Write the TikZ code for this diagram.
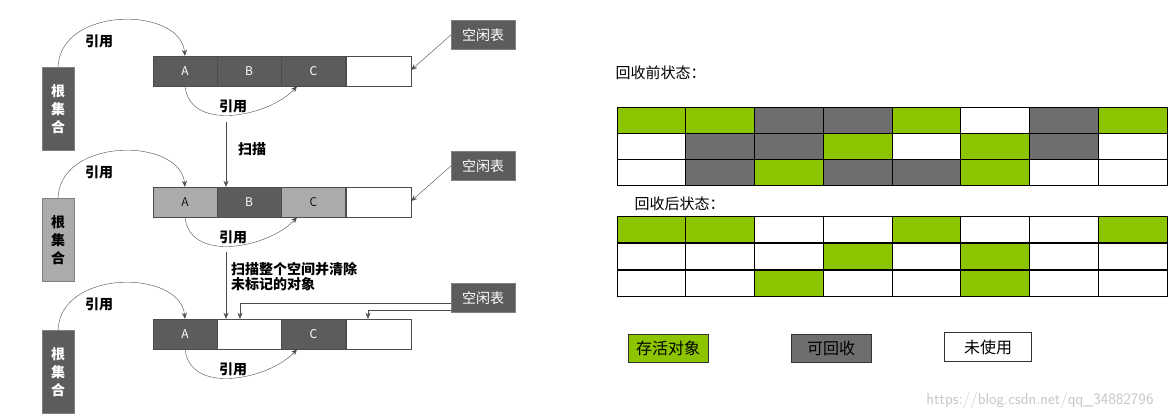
\documentclass[tikz,border=0pt]{standalone}
\usepackage{fontspec}
\setmainfont{Noto Sans CJK SC}
\usetikzlibrary{arrows.meta}
\definecolor{gr}{HTML}{8DC400}
\definecolor{dg}{HTML}{6E6E6E}
\definecolor{ld}{HTML}{5C5C5C}
\definecolor{lg}{HTML}{ABABAB}
\tikzset{
 cell/.style={draw=black!70,minimum width=64pt,minimum height=30pt,inner sep=0,font=\fontsize{12}{14}\selectfont,text=white},
 root/.style={draw=black!50,fill=ld,minimum width=32pt,minimum height=83pt,inner sep=0,text=white,font=\fontsize{14}{18}\selectfont\bfseries,align=center},
 free/.style={fill=ld,draw=black!50,minimum width=64pt,minimum height=29pt,inner sep=0,text=white,font=\fontsize{14}{16}\selectfont},
 lbl/.style={font=\fontsize{14}{16}\selectfont\bfseries,inner sep=1pt},
 ar/.style={draw=black!70,-{Stealth[length=6pt,width=5pt]}},
 g/.style={draw=black,line width=1pt,minimum width=68.75pt,minimum height=26pt,inner sep=0},
 leg/.style={draw=black!80,minimum width=80pt,minimum height=28pt,inner sep=0,font=\fontsize{16}{18}\selectfont},
}
\begin{document}
\begin{tikzpicture}[x=1pt,y=-1pt]
\useasboundingbox (0,0) rectangle (1173,419);
% left panel
\foreach \r/\y/\ca/\cb/\cc/\tc/\rc in {1/71/ld/ld/ld/white/ld, 2/202/lg/ld/lg/black/lg, 3/334/ld/white/ld/white/ld}{
  \node[cell,fill=\ca] (A\r) at (185,\y) {A};
  \node[cell,fill=\cb] (B\r) at (249,\y) {\ifnum\r=3\else B\fi};
  \node[cell,fill=\cc] (C\r) at (313.5,\y) {C};
  \node[cell,fill=white,minimum width=65pt] (D\r) at (378.5,\y) {};
  \node[root,fill=\rc,text=\tc] (R\r) at (58,\y+38) {根\\集\\合};
  \node[free] (F\r) at (483,\y-36) {空闲表};
  \draw[ar] (R\r.north) .. controls (60,\y-65) and (180,\y-65) .. (A\r.north);
  \node[lbl] at (99,\y-30) {引用};
  \draw[ar] (A\r.south) .. controls (190,\y+62) and (270,\y+45) .. (C\r.south-|297,0);
  \node[lbl] at (233,\y+35) {引用};
}
\node[text=black,font=\fontsize{12}{14}\selectfont] at (A2) {A};
\node[text=black,font=\fontsize{12}{14}\selectfont] at (C2) {C};
\draw[ar] (F1.west) -- (D1.east|-0,70);
\draw[ar] (F2.west) -- (D2.east|-0,201);
\coordinate (s1) at (226,122);
\draw[ar] (s1) -- (B2.north-|226,0);
\node[lbl] at (252,149) {扫描};
\coordinate (s2) at (226,252);
\draw[ar] (s2) -- (B3.north-|226,0);
\node[lbl,align=left,anchor=north west,inner sep=0,font=\fontsize{14}{15}\selectfont\bfseries] at (231,262) {扫描整个空间并清除\\未标记的对象};
\draw[ar] (F3.west|-0,303) -- (240,303) -- (B3.north-|240,0);
\draw[ar] (F3.west|-0,310) -- (368,310) -- (D3.north-|368,0);
% right panel
\node[font=\fontsize{15}{17}\selectfont,anchor=west] at (612,73) {回收前状态：};
\node[font=\fontsize{15}{17}\selectfont,anchor=west] at (631,204) {回收后状态：};
\foreach \row [count=\i] in {{gr,gr,dg,dg,gr,white,dg,gr},{white,dg,dg,gr,white,gr,dg,white},{white,dg,gr,dg,dg,gr,white,white}}{
  \foreach \c [count=\j] in \row {
    \node[g,fill=\c] (p\i\j) at (617+68.75*\j-34.375,108+26*\i-13) {};
  }
}
\foreach \row [count=\i] in {{gr,gr,white,white,gr,white,white,gr},{white,white,white,gr,white,gr,white,white},{white,white,gr,white,white,gr,white,white}}{
  \foreach \c [count=\j] in \row {
    \node[g,fill=\c] (q\i\j) at (617+68.75*\j-34.375,216+27*\i-13.5) {};
  }
}
\node[leg,fill=gr] (L1) at (668,348) {存活对象};
\node[leg,fill=dg] (L2) at (831,348) {可回收};
\node[leg,fill=white,minimum width=87pt,minimum height=29pt] (L3) at (988,347) {未使用};
\node[text=black!22,font=\fontsize{16}{18}\selectfont\sffamily] (wm) at (1040,401) {https://blog.csdn.net/qq\_34882796};
\end{tikzpicture}
\end{document}
